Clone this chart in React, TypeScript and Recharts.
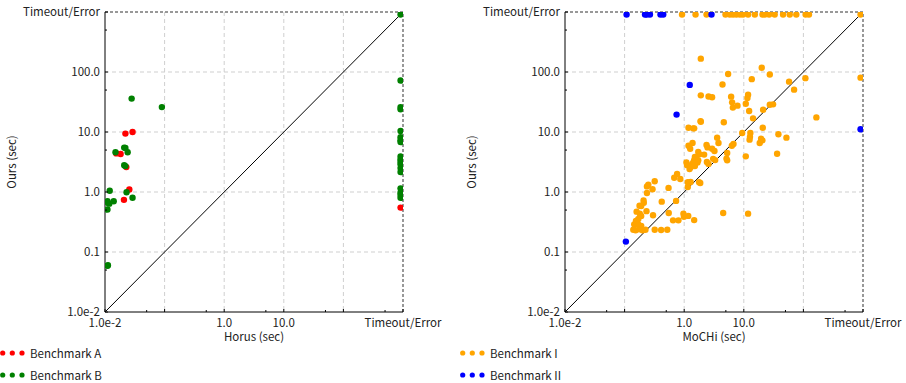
import { ScatterChart, Scatter, XAxis, YAxis, CartesianGrid, ReferenceLine } from 'recharts';

// timeout / error results are drawn just inside the top and right borders
const T = 910;

const FONT = '"Noto Sans CJK JP", "Noto Sans", sans-serif';
const TEXT = '#222';
const FS = 11.5;

const axisTicks = [0.01, 0.05, 0.1, 0.5, 1, 5, 10, 50, 100, 500, 1000];
const majorTicks = [0.01, 0.1, 1, 10, 100, 1000];
const gridValues = [0.1, 1, 10, 100];
const xTickLabels: Record<number, string> = { 0.01: '1.0e-2', 1: '1.0', 10: '10.0', 1000: 'Timeout/Error' };
const yTickLabels: Record<number, string> = {
  0.01: '1.0e-2',
  0.1: '0.1',
  1: '1.0',
  10: '10.0',
  100: '100.0',
  1000: 'Timeout/Error',
};

const leftNames = ['Benchmark A', 'Benchmark B'];
const leftColors = ['#ff0000', '#008000'];
const rightNames = ['Benchmark I', 'Benchmark II'];
const rightColors = ['#ffa500', '#0000ff'];

// [Horus, Ours]
const benchA: [number, number][] = [
  [0.022, 9.4], [0.029, 10], [0.0155, 4.4], [0.0183, 4.3], [0.0228, 2.6],
  [0.0256, 1.1], [0.0208, 0.74], [T, 0.55],
];

const benchB: [number, number][] = [
  [0.028, 36], [0.09, 26], [0.021, 5.5], [0.022, 5.4], [0.015, 4.6], [0.024, 4.6],
  [0.021, 2.8], [0.022, 2.7], [0.012, 1.05], [0.023, 0.99], [0.029, 0.8], [0.011, 0.7],
  [0.0118, 0.64], [0.0112, 0.66], [0.014, 0.7], [0.011, 0.51], [0.011, 0.059], [0.0112, 0.06],
  [T, T], [T, 72], [T, 26], [T, 24], [T, 10.4], [T, 8.2], [T, 7.3], [T, 6.8], [T, 3.9],
  [T, 3.5], [T, 3.2], [T, 2.9], [T, 2.5], [T, 2.15], [T, 1.15], [T, 0.98], [T, 0.9], [T, 0.8],
];

// [MoCHi, Ours]
const benchI: [number, number][] = [
  [0.92, T], [1.55, T], [2.37, T], [4.93, T], [5.82, T], [6.6, T], [7.5, T], [8.6, T],
  [9.7, T], [11.8, T], [15.3, T], [20.6, T], [22.5, T], [26.6, T], [33, T], [45.6, T],
  [59, T], [76, T], [109, T], [124, T], [T, T], [T, 80.5],
  [1.9, 167], [20, 118], [5.46, 92.6], [27.3, 91], [13.6, 76], [108, 79], [57.5, 69],
  [4.39, 62], [69.8, 50.8], [1.9, 40.8], [2.56, 39], [2.94, 38], [6.13, 38.8], [11.8, 41.9],
  [11.5, 37], [6.37, 31.2], [6.55, 25.5], [7.84, 27.5], [10.8, 29.6], [12.3, 22.4],
  [21.1, 23.5], [27.3, 28.5], [31, 28.9], [14.3, 16.9], [1.88, 15.2], [1.9, 14.8],
  [4.62, 14.5], [165, 17.5], [1.18, 11.8], [1.42, 11.5], [1.47, 11.5], [20.8, 11.8],
  [9.4, 9.6], [12.9, 9.6], [12.7, 8.3], [12.5, 7.45], [38.1, 9.15], [3.57, 8.05],
  [51.9, 8.05], [19.5, 7.74], [20.5, 7.26], [18.5, 6.56], [3.76, 6.56], [1.38, 6.56],
  [1.18, 5.92], [2.37, 6.07], [2.46, 5.54], [2.94, 5.27], [3.22, 4.82], [1.26, 5.27],
  [1.72, 4.64], [1.81, 4.24], [6.71, 6.3], [6.3, 5.9], [5.26, 4.47], [2.16, 4.2],
  [10.8, 3.93], [5.12, 3.6], [5.26, 3.37], [36.2, 4.35], [3.06, 3.57], [3.31, 3.4],
  [1.51, 3.83], [1.61, 3.6], [1.47, 3.4], [1.72, 3.37], [1.42, 3.12], [1.67, 3.1],
  [1.36, 2.9], [1.51, 2.71], [2.4, 3.16], [2.56, 2.94], [1.09, 3.1], [1.12, 2.8],
  [1.23, 2.42], [1.29, 2.6], [0.68, 1.73], [0.76, 2.0], [0.86, 1.65], [1.15, 1.45],
  [1.28, 1.47], [1.15, 1.21], [1.78, 1.45], [1.86, 1.41], [0.32, 1.51], [0.25, 1.32],
  [0.237, 1.24], [0.294, 1.11], [0.237, 0.96], [0.546, 1.17], [0.208, 0.72], [0.21, 0.66],
  [0.178, 0.59], [0.19, 0.585], [0.42, 0.69], [0.73, 0.71], [0.55, 0.447], [0.65, 0.337],
  [0.8, 0.337], [0.97, 0.436], [0.99, 0.385], [1.17, 0.4], [1.47, 0.34], [4.51, 0.447],
  [11.8, 0.436], [0.159, 0.47], [0.18, 0.436], [0.233, 0.48], [0.19, 0.4], [0.3, 0.41],
  [0.17, 0.355], [0.155, 0.329], [0.145, 0.289], [0.17, 0.287], [0.19, 0.273],
  [0.14, 0.235], [0.153, 0.23], [0.176, 0.24], [0.2, 0.23], [0.224, 0.235], [0.32, 0.235],
  [0.41, 0.232], [0.52, 0.235],
];

const benchII: [number, number][] = [
  [0.108, T], [0.22, T], [0.235, T], [0.266, T], [0.4, T], [0.445, T], [2.87, T],
  [1.24, 61], [0.745, 19.5], [T, 11.1], [0.105, 0.149],
];

const toPoints = (rows: [number, number][]) => rows.map(([x, y]) => ({ x, y }));

const dot = (color: string) => (p: any) => <circle cx={p.cx} cy={p.cy} r={3.2} fill={color} />;

const XTick = ({ x, y, payload }: any) => {
  const label = xTickLabels[payload.value];
  const len = majorTicks.includes(payload.value) ? 3 : 2;
  return (
    <g>
      <line x1={x} y1={y} x2={x} y2={y - len} stroke="#000" />
      {label && (
        <text x={x} y={y + 15} textAnchor="middle" fontSize={FS} fill={TEXT} fontFamily={FONT}>
          {label}
        </text>
      )}
    </g>
  );
};

const YTick = ({ x, y, payload }: any) => {
  const label = yTickLabels[payload.value];
  const len = majorTicks.includes(payload.value) ? 3 : 2;
  return (
    <g>
      <line x1={x} y1={y} x2={x + len} y2={y} stroke="#000" />
      {label && (
        <text x={x - 5} y={y + 4} textAnchor="end" fontSize={FS} fill={TEXT} fontFamily={FONT}>
          {label}
        </text>
      )}
    </g>
  );
};

interface PanelProps {
  xTitle: string;
  series: { name: string; color: string; rows: [number, number][] }[];
  width: number;
  marginRight: number;
}

function Panel({ xTitle, series, width, marginRight }: PanelProps) {
  return (
    <ScatterChart width={width} height={345} margin={{ top: 12, right: marginRight, bottom: 3, left: 5 }}>
      <CartesianGrid
        stroke="#cfcfcf"
        strokeDasharray="4 3"
        horizontalValues={gridValues}
        verticalValues={gridValues}
      />
      <XAxis
        type="number"
        dataKey="x"
        scale="log"
        domain={[0.01, 1000]}
        allowDataOverflow
        ticks={axisTicks}
        interval={0}
        tickSize={0}
        tickMargin={0}
        tickLine={false}
        tick={<XTick />}
        axisLine={{ stroke: '#000' }}
        height={30}
        label={{
          content: (p: any) => {
            const vb = p.viewBox;
            return (
              <text x={vb.x + vb.width / 2} y={vb.y + 28.5} textAnchor="middle" fontSize={FS} fill={TEXT} fontFamily={FONT}>
                {xTitle}
              </text>
            );
          },
        }}
      />
      <YAxis
        type="number"
        dataKey="y"
        scale="log"
        domain={[0.01, 1000]}
        allowDataOverflow
        ticks={axisTicks}
        interval={0}
        tickSize={0}
        tickMargin={0}
        tickLine={false}
        tick={<YTick />}
        axisLine={{ stroke: '#000' }}
        width={100}
        label={{
          content: (p: any) => {
            const vb = p.viewBox;
            const cx = vb.x + 6;
            const cy = vb.y + vb.height / 2;
            return (
              <text
                x={cx}
                y={cy}
                transform={`rotate(-90 ${cx} ${cy})`}
                textAnchor="middle"
                dominantBaseline="central"
                fontSize={FS}
                fill={TEXT}
                fontFamily={FONT}
              >
                Ours (sec)
              </text>
            );
          },
        }}
      />
      <ReferenceLine y={1000} stroke="#777" strokeDasharray="3 2" strokeWidth={1.5} />
      <ReferenceLine x={1000} stroke="#777" strokeDasharray="3 2" strokeWidth={1.5} />
      <ReferenceLine
        segment={[{ x: 0.01, y: 0.01 }, { x: 1000, y: 1000 }]}
        stroke="#000"
        strokeWidth={1}
      />
      {series.map((s) => (
        <Scatter
          key={s.name}
          name={s.name}
          data={toPoints(s.rows)}
          fill={s.color}
          shape={dot(s.color)}
          isAnimationActive={false}
        />
      ))}
    </ScatterChart>
  );
}

function LegendBlock({ names, colors, left }: { names: string[]; colors: string[]; left: number }) {
  return (
    <>
      {names.map((name, i) => (
        <div
          key={name}
          style={{
            position: 'absolute',
            left,
            top: 346 + i * 22,
            height: 14,
            display: 'flex',
            alignItems: 'center',
            fontFamily: FONT,
            fontSize: FS,
            color: TEXT,
          }}
        >
          <svg width={28} height={14}>
            {[2.7, 12.3, 22].map((cx) => (
              <circle key={cx} cx={cx} cy={7} r={2.6} fill={colors[i]} />
            ))}
          </svg>
          <span style={{ marginLeft: 2 }}>{name}</span>
        </div>
      ))}
    </>
  );
}

export default function App() {
  const left = leftNames.map((name, i) => ({
    name,
    color: leftColors[i],
    rows: i === 0 ? benchA : benchB,
  }));
  const right = rightNames.map((name, i) => ({
    name,
    color: rightColors[i],
    rows: i === 0 ? benchI : benchII,
  }));

  return (
    <div style={{ position: 'absolute', left: 0, top: 0, width: 906, height: 383, background: '#fff' }}>
      <div style={{ position: 'absolute', left: 0, top: 0 }}>
        <Panel xTitle="Horus (sec)" series={left} width={453} marginRight={50} />
      </div>
      <div style={{ position: 'absolute', left: 460, top: 0 }}>
        <Panel xTitle="MoCHi (sec)" series={right} width={446} marginRight={43} />
      </div>
      <LegendBlock names={leftNames} colors={leftColors} left={0} />
      <LegendBlock names={rightNames} colors={rightColors} left={460} />
    </div>
  );
}
